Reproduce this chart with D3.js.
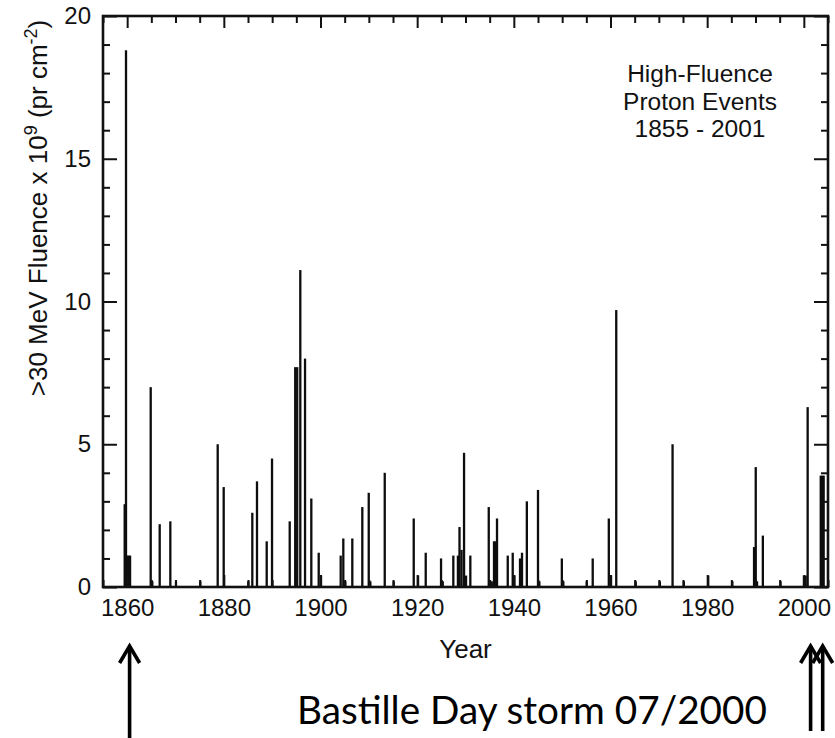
<!DOCTYPE html>
<html>
<head>
<meta charset="utf-8">
<script src="https://cdn.jsdelivr.net/npm/d3@7"></script>
<style>
  body { margin: 0; background: #fff; }
  svg { display: block; }
  .ax text { font-family: "Liberation Sans", Arial, Helvetica, sans-serif; font-size: 24px; fill: #111; }
  .ax line { stroke: #111; stroke-width: 2; }
  .ax path.domain { display: none; }
</style>
</head>
<body>
<svg id="chart" width="835" height="738"></svg>
<script>
// High-fluence solar proton events: event year and >30 MeV fluence (units of 1e9 pr cm^-2)
const eventYears = [
  1859.49, 1859.76, 1860.0, 1860.3, 1860.6,
  1864.87, 1865.2, 1866.73, 1868.93, 1870.1, 1875.13,
  1878.73, 1879.97, 1885.06, 1885.89, 1886.86, 1888.87, 1889.97,
  1893.63, 1894.77, 1895.18, 1895.82, 1896.8, 1898.1, 1899.63, 1900.11,
  1904.18, 1904.72, 1905.13, 1906.58, 1908.65, 1909.98, 1910.31,
  1913.29, 1915.15, 1919.29, 1920.18, 1921.77, 1924.94, 1925.29,
  1927.48, 1928.43, 1928.76, 1929.18, 1929.7, 1930.11, 1931.0,
  1934.81, 1935.43, 1935.9, 1936.2, 1936.52, 1938.74, 1939.77, 1940.1,
  1941.28, 1941.69, 1942.69, 1945.0, 1945.28, 1949.93, 1950.24,
  1955.08, 1956.32, 1959.65, 1960.11, 1961.19, 1965.22,
  1970.21, 1972.84, 1975.17, 1980.22, 1985.21,
  1989.7, 1990.05, 1990.32, 1991.52, 1995.18,
  2000.02, 2000.37, 2000.79, 2003.5, 2003.8, 2004.1
];
const fluence = [
  2.9, 18.8, 1.1, 1.1, 1.1,
  7.0, 0.2, 2.2, 2.3, 0.2, 0.2,
  5.0, 3.5, 0.2, 2.6, 3.7, 1.6, 4.5,
  2.3, 7.7, 7.7, 11.1, 8.0, 3.1, 1.2, 0.4,
  1.1, 1.7, 0.2, 1.7, 2.8, 3.3, 0.2,
  4.0, 0.2, 2.4, 0.4, 1.2, 1.0, 0.2,
  1.1, 1.1, 2.1, 1.3, 4.7, 0.4, 1.1,
  2.8, 0.2, 1.6, 1.6, 2.4, 1.1, 1.2, 0.4,
  1.0, 1.2, 3.0, 3.4, 0.2, 1.0, 0.2,
  0.2, 1.0, 2.4, 0.4, 9.7, 0.2,
  0.2, 5.0, 0.2, 0.4, 0.2,
  1.4, 4.2, 0.2, 1.8, 0.2,
  0.4, 0.4, 6.3, 3.9, 3.9, 3.9
];

// Axis ticks
const yearTicks = [1860, 1880, 1900, 1920, 1940, 1960, 1980, 2000];
const yearMinorTicks = [1855, 1865, 1870, 1875, 1885, 1890, 1895, 1905, 1910, 1915, 1925, 1930, 1935,
                        1945, 1950, 1955, 1965, 1970, 1975, 1985, 1990, 1995, 2005];
const fluenceTicks = [0, 5, 10, 15, 20];
const fluenceMinorTicks = [1, 2, 3, 4, 6, 7, 8, 9, 11, 12, 13, 14, 16, 17, 18, 19];

// Annotation arrows (years they point at) and texts
const arrowYears = [1860.5, 2001.4, 2003.9];
const legendLines = ["High-Fluence", "Proton Events", "1855 - 2001"];
const stormNote = "Bastille Day storm 07/2000";

const svg = d3.select("#chart");
const sans = '"Liberation Sans", Arial, Helvetica, sans-serif';

const x = d3.scaleLinear().domain([1855, 2005]).range([103, 828]);
const y = d3.scaleLinear().domain([0, 20]).range([587, 16]);
const [x0, x1] = x.range();
const [yb, yt] = y.range();

// event bars
const events = eventYears.map((yr, i) => ({ yr, v: fluence[i] }));
const barW = 2.3;
svg.append("g").selectAll("rect").data(events).join("rect")
  .attr("x", d => x(d.yr) - barW / 2)
  .attr("width", barW)
  .attr("y", d => y(d.v))
  .attr("height", d => y(0) - y(d.v))
  .attr("fill", "#0d0d0d");

// axes: inward ticks on all four sides
const noLabel = () => "";
svg.append("g").attr("class", "ax").attr("transform", `translate(0,${yb})`)
  .call(d3.axisBottom(x).tickValues(yearTicks).tickFormat(d3.format("d"))
    .tickSize(-12).tickSizeOuter(0).tickPadding(12));
svg.append("g").attr("class", "ax").attr("transform", `translate(0,${yb})`)
  .call(d3.axisBottom(x).tickValues(yearMinorTicks).tickFormat(noLabel).tickSize(-7).tickSizeOuter(0));
svg.append("g").attr("class", "ax").attr("transform", `translate(0,${yt})`)
  .call(d3.axisTop(x).tickValues(yearTicks).tickFormat(noLabel).tickSize(-12).tickSizeOuter(0));
svg.append("g").attr("class", "ax").attr("transform", `translate(0,${yt})`)
  .call(d3.axisTop(x).tickValues(yearMinorTicks).tickFormat(noLabel).tickSize(-7).tickSizeOuter(0));

svg.append("g").attr("class", "ax").attr("transform", `translate(${x0},0)`)
  .call(d3.axisLeft(y).tickValues(fluenceTicks).tickFormat(d3.format("d"))
    .tickSize(-14).tickSizeOuter(0).tickPadding(12));
svg.append("g").attr("class", "ax").attr("transform", `translate(${x0},0)`)
  .call(d3.axisLeft(y).tickValues(fluenceMinorTicks).tickFormat(noLabel).tickSize(-7).tickSizeOuter(0));
svg.append("g").attr("class", "ax").attr("transform", `translate(${x1},0)`)
  .call(d3.axisRight(y).tickValues(fluenceTicks).tickFormat(noLabel).tickSize(-14).tickSizeOuter(0));
svg.append("g").attr("class", "ax").attr("transform", `translate(${x1},0)`)
  .call(d3.axisRight(y).tickValues(fluenceMinorTicks).tickFormat(noLabel).tickSize(-7).tickSizeOuter(0));

// plot frame
svg.append("rect")
  .attr("x", x0).attr("y", yt)
  .attr("width", x1 - x0).attr("height", yb - yt)
  .attr("fill", "none").attr("stroke", "#111").attr("stroke-width", 2.6);

// axis titles
svg.append("text")
  .attr("x", (x0 + x1) / 2).attr("y", 658)
  .attr("text-anchor", "middle")
  .style("font-family", sans).style("font-size", "26px").attr("fill", "#111")
  .text("Year");

const yTitle = svg.append("text")
  .attr("transform", "translate(47,208) rotate(-90)")
  .attr("text-anchor", "middle")
  .style("font-family", sans).style("font-size", "26px").attr("fill", "#111");
yTitle.append("tspan").text(">30 MeV Fluence x 10");
yTitle.append("tspan").attr("dy", -10).style("font-size", "18px").text("9");
yTitle.append("tspan").attr("dy", 10).text(" (pr cm");
yTitle.append("tspan").attr("dy", -10).style("font-size", "18px").text("-2");
yTitle.append("tspan").attr("dy", 10).text(")");

// in-plot legend text
svg.append("g").selectAll("text").data(legendLines).join("text")
  .attr("x", 700)
  .attr("y", (d, i) => 82 + i * 27.6)
  .attr("text-anchor", "middle")
  .style("font-family", sans).style("font-size", "24.5px").attr("fill", "#111")
  .text(d => d);

// annotation arrows under the axis
const arrowTip = 646;
const arrowEnds = [742, 731, 731];
const arrows = svg.append("g").attr("fill", "none").attr("stroke", "#000")
  .attr("stroke-width", 3.6).attr("stroke-linejoin", "miter");
arrowYears.forEach((yr, i) => {
  const ax = x(yr);
  arrows.append("line").attr("x1", ax).attr("x2", ax)
    .attr("y1", arrowTip + 2).attr("y2", arrowEnds[i]);
  arrows.append("path")
    .attr("d", `M${ax - 10},${arrowTip + 17} L${ax},${arrowTip} L${ax + 10},${arrowTip + 17}`);
});

// storm note, sized to span its line
const note = svg.append("text")
  .attr("x", 297).attr("y", 724)
  .style("font-family", 'Lato, "Open Sans", "Noto Sans", sans-serif')
  .style("font-size", "40px").attr("fill", "#000")
  .text(stormNote);
const w = note.node().getComputedTextLength();
note.style("font-size", (40 * 470 / w).toFixed(2) + "px");
</script>
</body>
</html>
